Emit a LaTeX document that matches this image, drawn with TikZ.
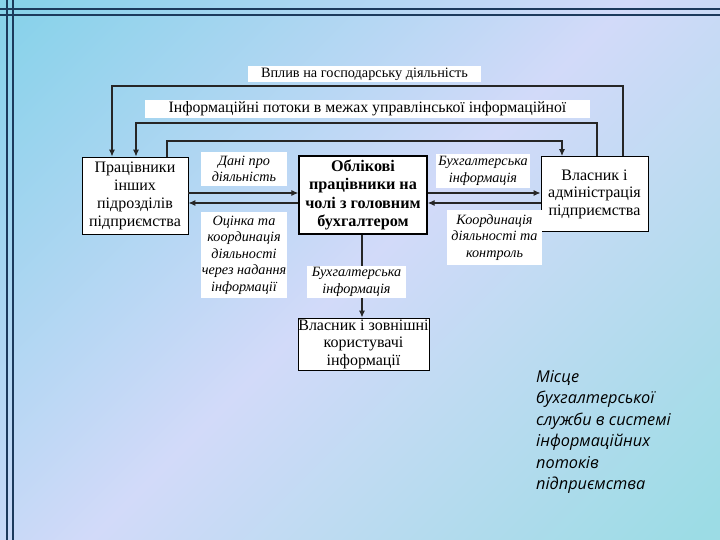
\documentclass[tikz,border=0pt]{standalone}
\usepackage{fontspec}
\setmainfont{Liberation Serif}
\newfontfamily\sidefont{Open Sans}
\usetikzlibrary{arrows.meta}
\definecolor{bgA}{HTML}{88D2EA}
\definecolor{bgB}{HTML}{D2DAF9}
\definecolor{bgC}{HTML}{9CDCE5}
\definecolor{framec}{HTML}{1C3A5C}
\pgfdeclarehorizontalshading{bgshade}{100bp}{color(0bp)=(bgA); color(16bp)=(bgA); color(50bp)=(bgB); color(84bp)=(bgC); color(100bp)=(bgC)}
\begin{document}
\begin{tikzpicture}[x=1pt,y=-1pt,
  box/.style={draw=black, line width=0.9pt, fill=white, align=center, inner sep=0pt,
    font=\fontsize{16}{18}\selectfont},
  lbl/.style={fill=white, align=center, inner sep=0pt, font=\fontsize{14.2}{16.5}\selectfont\itshape},
  toplbl/.style={fill=white, align=center, inner sep=0pt},
  conn/.style={line width=1.1pt, draw=black!85},
  arr/.style={conn, -{Latex[length=7pt,width=6pt]}},
  frame/.style={line width=1.4pt, draw=framec}
]
\useasboundingbox (0,0) rectangle (720,540);
\shade[shading=bgshade, shading angle=-45] (0,0) rectangle (720,540);
% frame lines
\draw[frame] (0,9) -- (720,9);
\draw[frame] (0,15) -- (720,15);
\draw[frame] (7,0) -- (7,540);
\draw[frame] (13,0) -- (13,540);

% main boxes
\node[box, minimum width=106pt, minimum height=77pt] (L) at (135,195.5)
  {Працівники\\інших\\підрозділів\\підприємства};
\node[box, line width=1.4pt, minimum width=128pt, minimum height=78pt, font=\fontsize{16.2}{18.5}\selectfont\bfseries] (C) at (363,195)
  {Облікові\\працівники на\\чолі з головним\\бухгалтером};
\node[box, minimum width=107pt, minimum height=75pt, font=\fontsize{16}{17.5}\selectfont] (R) at (594.5,194)
  {Власник і\\адміністрація\\підприємства};
\node[box, minimum width=131pt, minimum height=52pt, font=\fontsize{16}{17.5}\selectfont] (B) at (363.5,344)
  {Власник і зовнішні\\користувачі\\інформації};

% loop coordinates
\coordinate (a1) at (623,86);
\coordinate (a2) at (112,86);
\coordinate (b1) at (597,123);
\coordinate (b2) at (136,123);
\coordinate (c1) at (167,141);
\coordinate (c2) at (562,141);
\coordinate (h1) at (0,193);
\coordinate (h2) at (0,203);
\coordinate (v1) at (362,0);

\draw[arr] (R.north -| a1) -- (a1) -- (a2) -- (L.north -| a2);
\draw[arr] (R.north -| b1) -- (b1) -- (b2) -- (L.north -| b2);
\draw[arr] (L.north -| c1) -- (c1) -- (c2) -- (R.north -| c2);
\draw[arr] (L.east |- h1) -- (C.west |- h1);
\draw[arr] (C.west |- h2) -- (L.east |- h2);
\draw[arr] (C.east |- h1) -- (R.west |- h1);
\draw[arr] (R.west |- h2) -- (C.east |- h2);
\draw[arr] (C.south -| v1) -- (B.north -| v1);

% labels
\node[toplbl, minimum width=233pt, minimum height=16pt, font=\fontsize{14.3}{15}\selectfont] (T1) at (364.5,74)
  {Вплив на господарську діяльність};
\node[toplbl, minimum width=445pt, minimum height=18pt, font=\fontsize{15.8}{17}\selectfont] (T2) at (367.5,109)
  {Інформаційні потоки в межах управлінської інформаційної};
\node[lbl, minimum width=86pt, minimum height=34pt] (D1) at (244,169)
  {Дані про\\діяльність};
\node[lbl, minimum width=86pt, minimum height=86pt] (D2) at (244,255)
  {Оцінка та\\координація\\діяльності\\через надання\\інформації};
\node[lbl, minimum width=94pt, minimum height=34pt] (D3) at (483,171)
  {Бухгалтерська\\інформація};
\node[lbl, minimum width=95pt, minimum height=55pt] (D4) at (494.5,237.5)
  {Координація\\діяльності та\\контроль};
\node[lbl, minimum width=99pt, minimum height=32pt] (D5) at (356.5,282)
  {Бухгалтерська\\інформація};

% side caption
\node[anchor=north west, align=left, inner sep=0pt, font=\sidefont\itshape\fontsize{16.3}{21.5}\selectfont] (S) at (536,370)
  {Місце\\бухгалтерської\\служби в системі\\інформаційних\\потоків\\підприємства};
\end{tikzpicture}
\end{document}
